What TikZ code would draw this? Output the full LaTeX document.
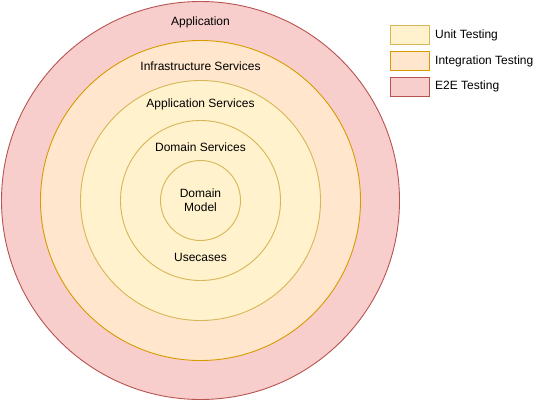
\documentclass[tikz,border=0pt]{standalone}
\usepackage{fontspec}
\setmainfont{Liberation Sans}
\definecolor{pinkfill}{HTML}{F8CECC}
\definecolor{pinkdraw}{HTML}{B85450}
\definecolor{orangefill}{HTML}{FFE6CC}
\definecolor{orangedraw}{HTML}{D79B00}
\definecolor{yellowfill}{HTML}{FFF2CC}
\definecolor{yellowdraw}{HTML}{D6B656}
\begin{document}
\begin{tikzpicture}[x=1pt,y=-1pt,
  ring/.style={circle,inner sep=0pt,line width=0.9pt},
  e2e/.style={ring,fill=pinkfill,draw=pinkdraw},
  integ/.style={ring,fill=orangefill,draw=orangedraw},
  unit/.style={ring,fill=yellowfill,draw=yellowdraw},
  lbl/.style={font=\fontsize{12}{14}\selectfont,inner sep=0pt,text=black},
  legbox/.style={minimum width=39pt,minimum height=19pt,inner sep=0pt,line width=0.9pt},
  legtext/.style={lbl,anchor=west}]
\useasboundingbox (0,0) rectangle (543,401);
\node[e2e,minimum size=398pt] (c1) at (200.5,200.5) {};
\node[integ,minimum size=320pt] (c2) at (200.5,200.5) {};
\node[unit,minimum size=240pt] (c3) at (200.5,200.5) {};
\node[unit,minimum size=160pt] (c4) at (200.5,200.5) {};
\node[unit,minimum size=80pt,lbl,align=center] (c5) at (200.5,200.5) {Domain\\Model};
\node[lbl] (t1) at (200.5,22) {Application};
\node[lbl] (t2) at (200.5,66) {Infrastructure Services};
\node[lbl] (t3) at (200.5,104.5) {Application Services};
\node[lbl] (t4) at (200.5,147) {Domain Services};
\node[lbl] (t6) at (200.5,257) {Usecases};
\node[legbox,fill=yellowfill,draw=yellowdraw] (l1) at (409.5,35) {};
\node[legbox,fill=orangefill,draw=orangedraw] (l2) at (409.5,61) {};
\node[legbox,fill=pinkfill,draw=pinkdraw] (l3) at (409.5,87) {};
\node[legtext] (lt1) at (435,35) {Unit Testing};
\node[legtext] (lt2) at (435,61) {Integration Testing};
\node[legtext] (lt3) at (435,86) {E2E Testing};
\end{tikzpicture}
\end{document}
